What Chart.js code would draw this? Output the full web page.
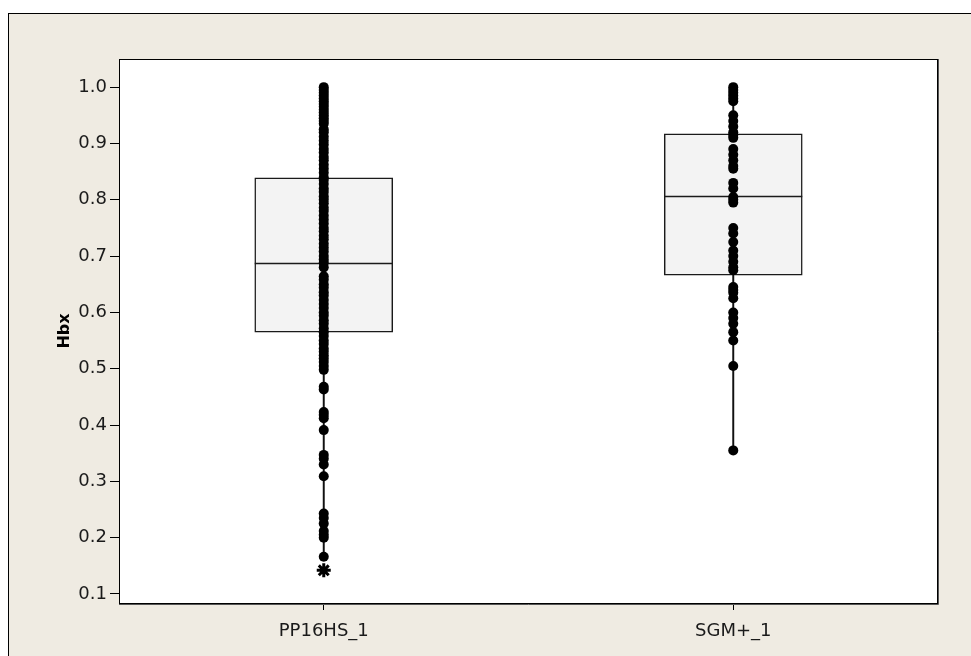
<!DOCTYPE html>
<html>
<head>
<meta charset="utf-8">
<title>Hbx boxplot</title>
<script src="https://cdn.jsdelivr.net/npm/chart.js@4.4.0/dist/chart.umd.min.js"></script>
<style>
  html, body { margin: 0; padding: 0; background: #fff; overflow: hidden; }
  #frame { position: absolute; left: 8px; top: 13px; width: 980px; height: 660px;
           background: #efebe2; border-left: 1px solid #000; border-top: 1px solid #000; }
  #wrap { position: absolute; left: 0; top: 0; width: 971px; height: 656px; }
</style>
</head>
<body>
<div id="frame"></div>
<div id="wrap"><canvas id="hbxBoxPlot" width="971" height="656"></canvas></div>
<script>
// Box summaries
const categories = ['PP16HS_1', 'SGM+_1'];
const q1 = [0.565, 0.666];
const medians = [0.688, 0.806];
const q3 = [0.839, 0.917];
const whiskerLow = [0.166, 0.355];
const whiskerHigh = [1.0, 1.0];

// Individual observations (dots)
const pp16Values = [
  1.0, 0.995, 0.99, 0.985, 0.98, 0.975, 0.97, 0.965, 0.96, 0.955, 0.95, 0.945,
  0.94, 0.935, 0.925, 0.92, 0.912, 0.905, 0.898, 0.89, 0.884, 0.876, 0.87, 0.862,
  0.855, 0.848, 0.84, 0.835, 0.828, 0.82, 0.814, 0.806, 0.8, 0.794, 0.786, 0.78,
  0.772, 0.765, 0.758, 0.75, 0.744, 0.736, 0.73, 0.722, 0.715, 0.708, 0.7, 0.694,
  0.688, 0.68, 0.664, 0.658, 0.65, 0.644, 0.636, 0.63, 0.622, 0.615, 0.608, 0.6,
  0.594, 0.586, 0.58, 0.572, 0.565, 0.558, 0.55, 0.544, 0.536, 0.53, 0.524, 0.518,
  0.512, 0.505, 0.498, 0.468, 0.463, 0.423, 0.418, 0.412, 0.391, 0.347, 0.34, 0.33,
  0.309, 0.243, 0.235, 0.225, 0.212, 0.205, 0.2, 0.166
];
const pp16Outliers = [0.142];
const sgmValues = [
  1.0, 0.995, 0.99, 0.985, 0.98, 0.975, 0.95, 0.94, 0.93, 0.92, 0.915, 0.91,
  0.89, 0.88, 0.87, 0.86, 0.855, 0.83, 0.82, 0.805, 0.8, 0.795, 0.75, 0.74,
  0.725, 0.71, 0.7, 0.69, 0.68, 0.675, 0.645, 0.64, 0.635, 0.625, 0.6, 0.59,
  0.58, 0.565, 0.55, 0.505, 0.355
];

const yTicks = [0.1, 0.2, 0.3, 0.4, 0.5, 0.6, 0.7, 0.8, 0.9, 1.0];

const FONT = "'DejaVu Sans', sans-serif";

// plot background + frame, median lines
const boxExtras = {
  id: 'boxExtras',
  beforeDraw(chart) {
    const { ctx, chartArea: a } = chart;
    ctx.save();
    ctx.fillStyle = '#ffffff';
    ctx.fillRect(a.left, a.top, a.right - a.left, a.bottom - a.top);
    ctx.restore();
  },
  afterDatasetDraw(chart, args) {
    if (args.index !== 1) return;
    const { ctx } = chart;
    const y = chart.scales.y;
    ctx.save();
    ctx.strokeStyle = '#1a1a1a';
    ctx.lineWidth = 1.6;
    args.meta.data.forEach((bar, i) => {
      const py = Math.round(y.getPixelForValue(medians[i])) + 0.5;
      ctx.beginPath();
      ctx.moveTo(bar.x - bar.width / 2, py);
      ctx.lineTo(bar.x + bar.width / 2, py);
      ctx.stroke();
    });
    ctx.restore();
  },
  afterDraw(chart) {
    const { ctx, chartArea: a } = chart;
    ctx.save();
    ctx.strokeStyle = '#000';
    ctx.lineWidth = 1;
    ctx.strokeRect(a.left + 0.5, a.top + 0.5, a.right - a.left - 1, a.bottom - a.top);
    ctx.strokeStyle = '#555';
    ctx.beginPath();
    ctx.moveTo(a.right + 0.5, a.top);
    ctx.lineTo(a.right + 0.5, a.bottom + 1.5);
    ctx.lineTo(a.left, a.bottom + 1.5);
    ctx.stroke();
    ctx.restore();
  }
};

const ctx = document.getElementById('hbxBoxPlot').getContext('2d');
new Chart(ctx, {
  type: 'bar',
  data: {
    labels: categories,
    datasets: [
      {
        label: 'whisker',
        data: categories.map((c, i) => [whiskerLow[i], whiskerHigh[i]]),
        backgroundColor: '#111',
        barThickness: 1.3,
        order: 3
      },
      {
        label: 'box',
        data: categories.map((c, i) => [q1[i], q3[i]]),
        backgroundColor: '#f3f3f3',
        borderColor: '#1a1a1a',
        borderWidth: 1.5,
        borderSkipped: false,
        barThickness: 138,
        order: 2
      },
      {
        type: 'scatter',
        label: categories[0],
        data: pp16Values.map(v => ({ x: categories[0], y: v })),
        backgroundColor: '#000',
        borderColor: '#000',
        pointRadius: 5,
        borderWidth: 0,
        order: 0
      },
      {
        type: 'scatter',
        label: categories[1],
        data: sgmValues.map(v => ({ x: categories[1], y: v })),
        backgroundColor: '#000',
        borderColor: '#000',
        pointRadius: 5,
        borderWidth: 0,
        order: 0
      },
      {
        type: 'scatter',
        label: 'outlier',
        data: pp16Outliers.map(v => ({ x: categories[0], y: v })),
        pointStyle: 'star',
        backgroundColor: '#000',
        borderColor: '#000',
        pointRadius: 7,
        borderWidth: 3,
        order: 0
      }
    ]
  },
  options: {
    responsive: false,
    animation: false,
    grouped: false,
    layout: { padding: { left: 0, top: 59, right: 33, bottom: 0 } },
    plugins: {
      legend: { display: false },
      tooltip: { enabled: false }
    },
    scales: {
      x: {
        offset: true,
        grid: { display: true, offset: false, drawOnChartArea: false, drawTicks: true, tickLength: 7, color: '#000' },
        border: { display: true, color: '#000' },
        ticks: { color: '#1a1a1a', padding: 11, font: { family: FONT, size: 18 } },
        afterFit: s => { s.height = 53; }
      },
      y: {
        min: 0.084,
        max: 1.05,
        afterBuildTicks: s => { s.ticks = yTicks.map(v => ({ value: v })); },
        grid: { display: true, drawOnChartArea: false, drawTicks: true, tickLength: 9, color: '#000' },
        border: { display: true, color: '#000' },
        ticks: { color: '#1a1a1a', padding: 3, font: { family: FONT, size: 18 }, callback: v => v.toFixed(1) },
        title: { display: true, text: 'Hbx', color: '#000', padding: { top: 55 }, font: { family: FONT, size: 16, weight: 'bold' } },
        afterFit: s => { s.width = 119; }
      }
    }
  },
  plugins: [boxExtras]
});
</script>
</body>
</html>
